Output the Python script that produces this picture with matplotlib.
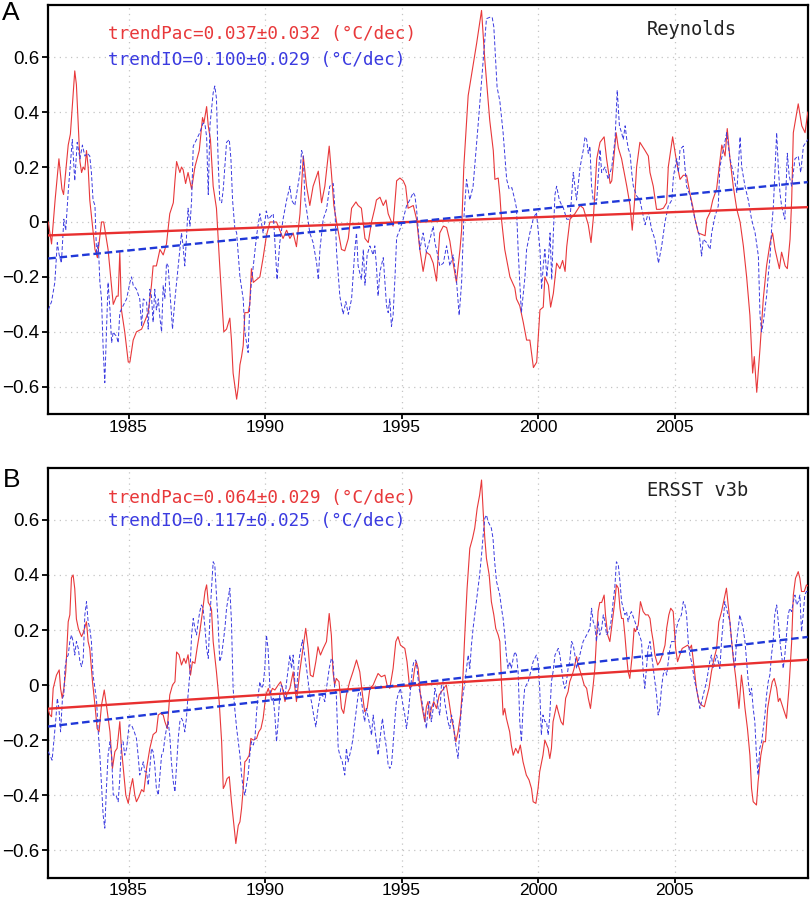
import numpy as np
import matplotlib
matplotlib.use("Agg")
import matplotlib.pyplot as plt

# ---------------- data (decimal year, anomaly degC) ----------------
pac_reynolds = [
 (1982.06,0.00),(1982.18,-0.08),(1982.31,0.08),(1982.45,0.23),(1982.56,0.12),(1982.62,0.10),(1982.79,0.28),(1982.87,0.32),
 (1983.03,0.55),(1983.09,0.50),(1983.22,0.22),(1983.28,0.18),(1983.34,0.20),(1983.40,0.19),(1983.46,0.26),(1983.52,0.20),
 (1983.58,0.08),(1983.77,-0.10),(1983.86,-0.13),(1984.01,0.00),(1984.09,0.00),(1984.25,-0.10),(1984.44,-0.30),(1984.56,-0.27),
 (1984.62,-0.27),(1984.68,-0.11),(1984.74,-0.32),(1984.86,-0.40),(1984.99,-0.51),(1985.05,-0.51),(1985.17,-0.43),(1985.29,-0.40),
 (1985.48,-0.39),(1985.60,-0.36),(1985.72,-0.33),(1985.78,-0.28),(1985.84,-0.23),(1985.90,-0.16),(1986.02,-0.16),(1986.15,-0.10),
 (1986.27,-0.12),(1986.39,-0.08),(1986.51,0.03),(1986.64,0.07),(1986.70,0.15),(1986.76,0.22),(1986.88,0.18),(1986.94,0.20),
 (1987.00,0.19),(1987.09,0.14),(1987.18,0.18),(1987.31,0.12),(1987.43,0.20),(1987.59,0.26),(1987.71,0.38),(1987.76,0.36),
 (1987.86,0.42),(1987.92,0.35),(1988.00,0.30),(1988.10,0.13),(1988.22,0.05),(1988.34,-0.16),(1988.49,-0.40),(1988.59,-0.39),
 (1988.71,-0.35),(1988.77,-0.43),(1988.83,-0.55),(1988.96,-0.645),(1989.02,-0.60),(1989.08,-0.52),(1989.14,-0.49),(1989.20,-0.45),
 (1989.26,-0.33),(1989.38,-0.33),(1989.44,-0.30),(1989.50,-0.17),(1989.57,-0.22),(1989.69,-0.21),(1989.81,-0.20),(1989.93,-0.13),
 (1990.05,-0.05),(1990.18,0.00),(1990.42,0.00),(1990.66,-0.06),(1990.79,-0.03),(1990.91,-0.06),(1991.03,-0.04),(1991.15,-0.09),
 (1991.28,0.03),(1991.40,0.24),(1991.52,0.13),(1991.64,0.06),(1991.76,0.13),(1991.95,0.185),(1992.07,0.07),(1992.19,0.13),
 (1992.35,0.276),(1992.43,0.18),(1992.52,0.06),(1992.62,0.00),(1992.80,-0.10),(1992.92,-0.105),(1993.05,-0.06),(1993.17,0.05),
 (1993.33,0.073),(1993.41,0.06),(1993.53,0.05),(1993.66,-0.06),(1993.78,-0.075),(1993.90,0.00),(1994.02,0.05),(1994.08,0.08),
 (1994.21,0.09),(1994.33,0.06),(1994.43,0.08),(1994.51,0.03),(1994.69,-0.015),(1994.82,0.15),(1994.94,0.16),(1995.06,0.15),
 (1995.15,0.13),(1995.24,0.05),(1995.43,0.06),(1995.55,0.01),(1995.67,-0.10),(1995.79,-0.18),(1995.91,-0.11),(1996.04,-0.12),
 (1996.16,-0.15),(1996.28,-0.215),(1996.40,-0.04),(1996.53,-0.015),(1996.65,-0.02),(1996.77,-0.07),(1996.89,-0.15),(1997.01,-0.22),
 (1997.14,-0.10),(1997.20,-0.03),(1997.28,0.20),(1997.44,0.46),(1997.62,0.57),(1997.75,0.65),(1997.93,0.77),(1998.05,0.59),
 (1998.23,0.37),(1998.36,0.26),(1998.42,0.155),(1998.54,0.16),(1998.60,0.10),(1998.66,0.01),(1998.78,-0.10),(1998.97,-0.20),
 (1999.15,-0.24),(1999.21,-0.28),(1999.33,-0.305),(1999.46,-0.366),(1999.58,-0.43),(1999.70,-0.43),(1999.83,-0.53),(1999.95,-0.51),
 (2000.07,-0.32),(2000.19,-0.31),(2000.25,-0.20),(2000.38,-0.23),(2000.46,-0.31),(2000.56,-0.26),(2000.68,-0.15),(2000.80,-0.17),
 (2000.90,-0.14),(2000.99,-0.18),(2001.05,-0.09),(2001.17,0.01),(2001.35,0.03),(2001.54,0.06),(2001.66,0.05),(2001.84,-0.01),
 (2001.94,-0.075),(2002.03,0.02),(2002.15,0.23),(2002.27,0.29),(2002.42,0.31),(2002.51,0.23),(2002.64,0.14),(2002.70,0.15),
 (2002.86,0.325),(2002.94,0.27),(2003.06,0.23),(2003.25,0.13),(2003.37,0.06),(2003.45,-0.03),(2003.53,0.07),(2003.61,0.20),
 (2003.73,0.29),(2003.92,0.26),(2004.04,0.24),(2004.10,0.18),(2004.22,0.13),(2004.34,0.046),(2004.47,0.046),(2004.59,0.05),
 (2004.71,0.07),(2004.77,0.20),(2004.93,0.31),(2005.08,0.215),(2005.20,0.155),(2005.32,0.17),(2005.44,0.17),(2005.57,0.10),
 (2005.66,0.06),(2005.75,0.01),(2005.87,-0.04),(2005.99,-0.045),(2006.12,-0.05),(2006.18,0.01),(2006.30,0.035),(2006.40,0.08),
 (2006.54,0.12),(2006.73,0.28),(2006.85,0.24),(2006.93,0.34),(2007.03,0.23),(2007.15,0.13),(2007.28,0.046),(2007.40,0.00),
 (2007.52,-0.087),(2007.64,-0.20),(2007.76,-0.34),(2007.86,-0.55),(2007.92,-0.49),(2008.01,-0.62),(2008.13,-0.46),(2008.25,-0.28),
 (2008.37,-0.16),(2008.50,-0.075),(2008.59,-0.04),(2008.68,-0.10),(2008.84,-0.17),(2008.92,-0.11),(2009.05,-0.16),(2009.13,-0.17),
 (2009.23,-0.063),(2009.29,0.08),(2009.35,0.325),(2009.53,0.43),(2009.66,0.35),(2009.78,0.325),(2009.88,0.40),
]

io_reynolds = [
 (1982.06,-0.32),(1982.18,-0.29),(1982.30,-0.22),(1982.39,-0.075),(1982.46,-0.12),(1982.54,-0.15),(1982.63,0.01),(1982.70,-0.03),
 (1982.79,0.11),(1982.94,0.30),(1983.03,0.15),(1983.12,0.29),(1983.22,0.23),(1983.31,0.28),(1983.40,0.24),(1983.49,0.25),
 (1983.58,0.24),(1983.64,0.18),(1983.70,0.08),(1983.77,0.06),(1983.83,-0.12),(1983.89,-0.075),(1983.95,-0.22),(1984.01,-0.28),
 (1984.07,-0.46),(1984.13,-0.585),(1984.19,-0.40),(1984.25,-0.22),(1984.32,-0.32),(1984.38,-0.44),(1984.44,-0.40),(1984.50,-0.41),
 (1984.56,-0.415),(1984.62,-0.44),(1984.68,-0.33),(1984.80,-0.305),(1984.93,-0.28),(1985.05,-0.22),(1985.11,-0.20),(1985.17,-0.23),
 (1985.29,-0.245),(1985.41,-0.28),(1985.48,-0.38),(1985.54,-0.28),(1985.66,-0.29),(1985.72,-0.39),(1985.78,-0.245),(1985.84,-0.27),
 (1985.90,-0.365),(1985.96,-0.245),(1986.02,-0.32),(1986.09,-0.28),(1986.15,-0.35),(1986.21,-0.40),(1986.27,-0.23),(1986.33,-0.28),
 (1986.39,-0.15),(1986.45,-0.16),(1986.51,-0.245),(1986.61,-0.39),(1986.70,-0.28),(1986.82,-0.16),(1986.94,-0.04),(1987.00,-0.09),
 (1987.06,-0.16),(1987.12,-0.06),(1987.18,0.05),(1987.25,-0.015),(1987.31,0.08),(1987.37,0.276),(1987.49,0.30),(1987.61,0.325),
 (1987.73,0.36),(1987.80,0.355),(1987.86,0.31),(1987.92,0.10),(1987.98,0.35),(1988.10,0.47),(1988.16,0.495),(1988.22,0.45),
 (1988.28,0.23),(1988.34,0.08),(1988.41,0.07),(1988.47,0.12),(1988.59,0.29),(1988.69,0.30),(1988.75,0.23),(1988.81,0.08),
 (1988.89,-0.02),(1988.96,-0.04),(1989.08,-0.20),(1989.20,-0.28),(1989.26,-0.40),(1989.38,-0.475),(1989.44,-0.30),(1989.50,-0.22),
 (1989.57,-0.16),(1989.69,-0.05),(1989.81,0.03),(1989.93,-0.04),(1990.05,0.04),(1990.12,0.01),(1990.30,0.03),(1990.44,-0.21),
 (1990.54,-0.075),(1990.66,0.01),(1990.79,0.08),(1990.91,0.13),(1990.97,0.08),(1991.09,0.06),(1991.28,0.18),(1991.34,0.26),
 (1991.40,0.24),(1991.46,0.08),(1991.52,0.045),(1991.64,-0.04),(1991.76,-0.075),(1991.89,-0.15),(1991.95,-0.21),(1992.01,-0.10),
 (1992.13,0.01),(1992.25,0.045),(1992.37,0.13),(1992.50,0.14),(1992.56,0.045),(1992.62,-0.11),(1992.74,-0.27),(1992.86,-0.336),
 (1992.96,-0.29),(1993.05,-0.336),(1993.17,-0.28),(1993.29,-0.10),(1993.35,-0.04),(1993.41,-0.16),(1993.53,-0.21),(1993.60,-0.10),
 (1993.66,-0.23),(1993.74,-0.12),(1993.84,-0.087),(1993.96,-0.12),(1994.02,-0.087),(1994.08,-0.16),(1994.14,-0.27),(1994.21,-0.18),
 (1994.33,-0.13),(1994.39,-0.22),(1994.45,-0.305),(1994.51,-0.33),(1994.57,-0.28),(1994.63,-0.38),(1994.69,-0.34),(1994.76,-0.20),
 (1994.82,-0.057),(1994.94,-0.027),(1995.06,0.01),(1995.18,0.058),(1995.30,0.08),(1995.43,0.107),(1995.49,0.095),(1995.55,0.046),
 (1995.67,-0.10),(1995.79,-0.04),(1995.91,-0.11),(1996.04,-0.063),(1996.16,-0.015),(1996.22,-0.075),(1996.28,-0.10),(1996.40,-0.16),
 (1996.53,-0.15),(1996.65,-0.087),(1996.77,-0.16),(1996.89,-0.12),(1997.01,-0.21),(1997.11,-0.34),(1997.20,-0.22),(1997.28,0.01),
 (1997.38,0.155),(1997.50,0.08),(1997.62,0.13),(1997.81,0.36),(1997.99,0.59),(1998.11,0.74),(1998.23,0.745),(1998.32,0.745),
 (1998.38,0.71),(1998.50,0.49),(1998.60,0.44),(1998.72,0.325),(1998.85,0.155),(1998.94,0.12),(1999.04,0.125),(1999.15,0.08),
 (1999.21,0.05),(1999.27,-0.10),(1999.33,-0.22),(1999.39,-0.33),(1999.52,-0.20),(1999.58,-0.10),(1999.70,-0.04),(1999.82,0.01),
 (1999.94,0.035),(2000.07,-0.10),(2000.13,-0.245),(2000.19,-0.16),(2000.25,-0.10),(2000.32,-0.20),(2000.38,-0.135),(2000.44,-0.04),
 (2000.50,-0.21),(2000.56,-0.04),(2000.62,0.10),(2000.68,0.13),(2000.78,0.08),(2000.87,0.06),(2000.93,0.05),(2001.05,0.01),
 (2001.17,0.01),(2001.29,0.18),(2001.41,0.08),(2001.54,0.20),(2001.66,0.264),(2001.72,0.31),(2001.78,0.30),(2001.84,0.25),
 (2001.90,0.276),(2001.96,0.13),(2002.02,0.08),(2002.15,0.08),(2002.27,0.264),(2002.33,0.18),(2002.45,0.20),(2002.57,0.155),
 (2002.70,0.20),(2002.82,0.30),(2002.90,0.48),(2002.98,0.35),(2003.06,0.325),(2003.12,0.30),(2003.19,0.35),(2003.25,0.30),
 (2003.31,0.264),(2003.37,0.25),(2003.43,0.18),(2003.49,0.13),(2003.61,0.095),(2003.73,0.08),(2003.92,-0.01),(2004.04,0.035),
 (2004.16,-0.027),(2004.28,-0.063),(2004.41,-0.15),(2004.53,-0.087),(2004.65,0.00),(2004.77,0.058),(2004.90,0.08),(2004.96,0.167),
 (2005.08,0.23),(2005.14,0.18),(2005.20,0.264),(2005.32,0.276),(2005.38,0.20),(2005.44,0.13),(2005.57,0.095),(2005.69,0.035),
 (2005.81,-0.015),(2005.91,-0.05),(2005.99,-0.124),(2006.05,-0.063),(2006.18,-0.075),(2006.30,-0.10),(2006.36,-0.04),(2006.48,0.02),
 (2006.60,0.058),(2006.66,0.20),(2006.79,0.264),(2006.91,0.325),(2007.03,0.23),(2007.15,0.18),(2007.28,0.107),(2007.40,0.31),
 (2007.46,0.20),(2007.58,0.13),(2007.70,0.08),(2007.82,0.01),(2007.95,-0.04),(2008.07,-0.124),(2008.13,-0.34),(2008.19,-0.40),
 (2008.25,-0.366),(2008.31,-0.317),(2008.37,-0.27),(2008.44,-0.185),(2008.50,-0.124),(2008.56,-0.015),(2008.62,0.058),(2008.74,0.325),
 (2008.80,0.20),(2008.86,0.107),(2008.92,0.058),(2009.04,0.01),(2009.13,0.25),(2009.20,0.167),(2009.29,0.13),(2009.41,0.23),
 (2009.53,0.24),(2009.62,0.18),(2009.72,0.276),(2009.88,0.30),
]

pac_ersst = [
 (1982.06,-0.09),(1982.12,-0.109),(1982.18,-0.115),(1982.24,-0.012),(1982.30,0.012),(1982.36,0.036),(1982.46,0.055),(1982.51,-0.012),
 (1982.57,-0.048),(1982.63,-0.012),(1982.70,0.048),(1982.79,0.23),(1982.85,0.255),(1982.91,0.39),(1982.97,0.40),(1983.03,0.35),
 (1983.09,0.24),(1983.16,0.206),(1983.22,0.19),(1983.28,0.176),(1983.34,0.19),(1983.46,0.23),(1983.52,0.158),(1983.58,0.133),
 (1983.68,0.012),(1983.77,-0.073),(1983.85,-0.158),(1983.92,-0.17),(1984.01,-0.073),(1984.11,-0.018),(1984.19,-0.073),(1984.32,-0.17),
 (1984.41,-0.303),(1984.50,-0.242),(1984.58,-0.23),(1984.68,-0.133),(1984.74,-0.23),(1984.83,-0.327),(1984.90,-0.40),(1984.99,-0.43),
 (1985.07,-0.376),(1985.15,-0.34),(1985.23,-0.40),(1985.29,-0.424),(1985.38,-0.406),(1985.48,-0.38),(1985.56,-0.388),(1985.66,-0.303),
 (1985.78,-0.23),(1985.90,-0.18),(1986.02,-0.17),(1986.09,-0.109),(1986.17,-0.103),(1986.27,-0.109),(1986.33,-0.133),(1986.42,-0.158),
 (1986.51,-0.036),(1986.61,0.0),(1986.70,0.012),(1986.76,0.12),(1986.85,0.11),(1986.94,0.073),(1987.03,0.097),(1987.10,0.079),
 (1987.18,0.11),(1987.27,0.036),(1987.34,0.085),(1987.43,0.079),(1987.51,0.133),(1987.61,0.194),(1987.71,0.267),(1987.80,0.34),
 (1987.86,0.364),(1987.92,0.30),(1987.98,0.29),(1988.04,0.273),(1988.10,0.158),(1988.22,0.048),(1988.32,-0.06),(1988.41,-0.206),
 (1988.47,-0.376),(1988.53,-0.364),(1988.61,-0.34),(1988.69,-0.333),(1988.77,-0.424),(1988.86,-0.51),(1988.93,-0.576),(1989.02,-0.51),
 (1989.08,-0.497),(1989.14,-0.448),(1989.20,-0.376),(1989.26,-0.279),(1989.32,-0.273),(1989.42,-0.255),(1989.48,-0.194),(1989.57,-0.20),
 (1989.69,-0.194),(1989.77,-0.17),(1989.85,-0.158),(1989.93,-0.121),(1990.03,-0.036),(1990.12,-0.012),(1990.18,-0.036),(1990.27,-0.012),
 (1990.36,-0.018),(1990.48,0.0),(1990.57,0.012),(1990.64,-0.012),(1990.73,-0.06),(1990.81,-0.03),(1990.91,-0.012),(1991.03,0.048),
 (1991.15,-0.06),(1991.27,0.048),(1991.39,0.133),(1991.49,0.206),(1991.58,0.133),(1991.66,0.036),(1991.76,0.03),(1991.86,0.085),
 (1991.94,0.139),(1992.03,0.109),(1992.13,0.133),(1992.25,0.158),(1992.35,0.26),(1992.43,0.18),(1992.49,0.048),(1992.55,0.0),
 (1992.61,0.024),(1992.71,0.012),(1992.80,-0.085),(1992.88,-0.103),(1992.98,-0.036),(1993.10,0.012),(1993.22,0.048),(1993.35,0.091),
 (1993.47,0.048),(1993.57,-0.036),(1993.65,-0.097),(1993.74,-0.085),(1993.84,-0.012),(1993.96,0.0),(1994.06,0.024),(1994.14,0.042),
 (1994.26,0.03),(1994.39,0.036),(1994.47,0.0),(1994.57,-0.012),(1994.69,0.06),(1994.79,0.158),(1994.87,0.176),(1994.96,0.145),
 (1995.12,0.133),(1995.20,0.085),(1995.30,-0.012),(1995.40,0.0),(1995.48,0.06),(1995.54,0.085),(1995.61,0.06),(1995.69,-0.036),
 (1995.76,-0.085),(1995.85,-0.133),(1995.91,-0.079),(1995.97,-0.06),(1996.03,-0.121),(1996.09,-0.085),(1996.18,-0.06),(1996.28,-0.085),
 (1996.38,-0.036),(1996.46,-0.024),(1996.55,-0.012),(1996.64,0.0),(1996.74,-0.06),(1996.83,-0.121),(1996.91,-0.158),(1996.99,-0.206),
 (1997.07,-0.17),(1997.16,-0.109),(1997.23,-0.012),(1997.31,0.17),(1997.40,0.35),(1997.50,0.497),(1997.60,0.533),(1997.68,0.57),
 (1997.77,0.642),(1997.86,0.69),(1997.93,0.745),(1997.99,0.63),(1998.05,0.533),(1998.11,0.46),(1998.21,0.40),(1998.29,0.303),
 (1998.38,0.255),(1998.45,0.206),(1998.54,0.182),(1998.60,0.158),(1998.66,0.012),(1998.72,-0.109),(1998.78,-0.085),(1998.84,-0.121),
 (1998.90,-0.145),(1998.96,-0.17),(1999.02,-0.218),(1999.09,-0.255),(1999.18,-0.23),(1999.27,-0.248),(1999.35,-0.218),(1999.45,-0.279),
 (1999.57,-0.327),(1999.67,-0.345),(1999.76,-0.376),(1999.82,-0.424),(1999.92,-0.43),(2000.00,-0.376),(2000.06,-0.315),(2000.18,-0.255),
 (2000.25,-0.20),(2000.37,-0.23),(2000.43,-0.267),(2000.49,-0.23),(2000.55,-0.133),(2000.68,-0.073),(2000.74,-0.097),(2000.84,-0.133),
 (2000.92,-0.145),(2001.01,-0.048),(2001.10,-0.024),(2001.16,0.012),(2001.25,0.036),(2001.32,0.06),(2001.41,0.103),(2001.47,0.073),
 (2001.59,0.036),(2001.69,0.0),(2001.78,-0.012),(2001.84,-0.048),(2001.92,-0.085),(2002.02,0.0),(2002.08,0.06),(2002.14,0.17),
 (2002.20,0.267),(2002.26,0.30),(2002.33,0.30),(2002.42,0.327),(2002.47,0.255),(2002.55,0.182),(2002.63,0.158),(2002.69,0.206),
 (2002.75,0.255),(2002.81,0.303),(2002.87,0.364),(2002.94,0.352),(2003.00,0.279),(2003.06,0.242),(2003.12,0.242),(2003.18,0.182),
 (2003.24,0.109),(2003.30,0.048),(2003.36,0.024),(2003.45,0.109),(2003.52,0.206),(2003.57,0.194),(2003.67,0.218),(2003.75,0.303),
 (2003.85,0.267),(2003.94,0.255),(2004.03,0.255),(2004.10,0.242),(2004.16,0.194),(2004.22,0.158),(2004.28,0.109),(2004.38,0.073),
 (2004.46,0.085),(2004.55,0.109),(2004.65,0.145),(2004.71,0.206),(2004.79,0.255),(2004.86,0.279),(2004.95,0.267),(2005.04,0.133),
 (2005.11,0.085),(2005.19,0.109),(2005.28,0.133),(2005.38,0.139),(2005.48,0.145),(2005.56,0.133),(2005.62,0.145),(2005.72,0.06),
 (2005.80,-0.012),(2005.89,-0.06),(2005.99,-0.073),(2006.09,-0.079),(2006.17,-0.048),(2006.26,-0.012),(2006.35,0.048),(2006.45,0.097),
 (2006.54,0.133),(2006.62,0.23),(2006.72,0.267),(2006.82,0.315),(2006.90,0.352),(2006.99,0.267),(2007.06,0.194),(2007.15,0.097),
 (2007.23,0.036),(2007.31,-0.036),(2007.36,-0.085),(2007.45,0.036),(2007.51,-0.012),(2007.58,-0.085),(2007.67,-0.158),(2007.76,-0.255),
 (2007.82,-0.376),(2007.88,-0.424),(2007.94,-0.43),(2008.00,-0.436),(2008.06,-0.352),(2008.16,-0.255),(2008.25,-0.206),(2008.33,-0.206),
 (2008.41,-0.085),(2008.49,-0.036),(2008.58,0.012),(2008.65,0.024),(2008.74,-0.012),(2008.80,-0.06),(2008.86,-0.048),(2008.94,-0.073),
 (2009.02,-0.097),(2009.10,-0.121),(2009.19,-0.012),(2009.29,0.158),(2009.35,0.327),(2009.43,0.388),(2009.53,0.412),(2009.59,0.388),
 (2009.65,0.34),(2009.75,0.34),(2009.83,0.364),(2009.88,0.36),
]

io_ersst = [
 (1982.06,-0.242),(1982.12,-0.255),(1982.20,-0.273),(1982.26,-0.206),(1982.34,-0.121),(1982.39,-0.048),(1982.45,-0.085),(1982.51,-0.17),
 (1982.58,-0.048),(1982.63,-0.036),(1982.67,0.06),(1982.73,0.097),(1982.79,0.109),(1982.85,0.158),(1982.91,0.182),(1982.97,0.158),
 (1983.03,0.109),(1983.09,0.158),(1983.16,0.133),(1983.22,0.085),(1983.28,0.067),(1983.34,0.097),(1983.40,0.255),(1983.46,0.303),
 (1983.52,0.23),(1983.58,0.206),(1983.64,0.158),(1983.70,0.036),(1983.77,-0.012),(1983.83,-0.06),(1983.89,-0.17),(1983.95,-0.255),
 (1984.01,-0.364),(1984.07,-0.473),(1984.13,-0.52),(1984.19,-0.376),(1984.25,-0.255),(1984.32,-0.206),(1984.38,-0.255),(1984.44,-0.40),
 (1984.54,-0.40),(1984.62,-0.424),(1984.68,-0.34),(1984.74,-0.218),(1984.80,-0.206),(1984.86,-0.255),(1984.93,-0.23),(1985.02,-0.145),
 (1985.11,-0.145),(1985.21,-0.17),(1985.29,-0.194),(1985.35,-0.255),(1985.41,-0.327),(1985.48,-0.303),(1985.54,-0.279),(1985.60,-0.315),
 (1985.66,-0.315),(1985.72,-0.364),(1985.78,-0.303),(1985.84,-0.23),(1985.90,-0.242),(1985.96,-0.291),(1986.02,-0.376),(1986.09,-0.40),
 (1986.15,-0.327),(1986.21,-0.255),(1986.27,-0.242),(1986.33,-0.194),(1986.39,-0.158),(1986.45,-0.133),(1986.51,-0.182),(1986.57,-0.279),
 (1986.64,-0.352),(1986.70,-0.388),(1986.76,-0.291),(1986.82,-0.194),(1986.88,-0.133),(1986.94,-0.121),(1987.00,-0.133),(1987.06,-0.17),
 (1987.12,-0.121),(1987.18,-0.036),(1987.25,0.048),(1987.31,0.182),(1987.37,0.242),(1987.43,0.206),(1987.49,0.182),(1987.55,0.23),
 (1987.61,0.267),(1987.67,0.291),(1987.73,0.279),(1987.79,0.218),(1987.86,0.133),(1987.92,0.097),(1987.98,0.242),(1988.04,0.352),
 (1988.10,0.448),(1988.16,0.436),(1988.22,0.327),(1988.28,0.23),(1988.34,0.085),(1988.41,0.109),(1988.47,0.158),(1988.53,0.206),
 (1988.59,0.279),(1988.65,0.315),(1988.71,0.352),(1988.77,0.23),(1988.83,-0.012),(1988.89,-0.085),(1988.96,-0.158),(1989.02,-0.206),
 (1989.08,-0.255),(1989.14,-0.327),(1989.20,-0.376),(1989.26,-0.40),(1989.32,-0.364),(1989.38,-0.327),(1989.44,-0.255),(1989.50,-0.206),
 (1989.57,-0.218),(1989.63,-0.194),(1989.69,-0.097),(1989.75,-0.036),(1989.81,0.012),(1989.87,-0.012),(1989.93,0.0),(1989.99,0.06),
 (1990.05,0.182),(1990.11,0.133),(1990.18,-0.012),(1990.24,-0.06),(1990.30,-0.048),(1990.36,-0.109),(1990.42,-0.206),(1990.48,-0.133),
 (1990.54,-0.036),(1990.60,0.0),(1990.66,-0.012),(1990.73,-0.048),(1990.79,0.012),(1990.85,0.06),(1990.91,0.109),(1990.97,0.06),
 (1991.03,0.109),(1991.09,0.012),(1991.15,-0.036),(1991.21,0.06),(1991.27,0.109),(1991.37,0.164),(1991.45,0.109),(1991.52,0.06),
 (1991.58,0.012),(1991.64,-0.036),(1991.70,-0.06),(1991.78,-0.109),(1991.86,-0.152),(1991.94,-0.085),(1992.03,-0.036),(1992.10,-0.036),
 (1992.19,-0.06),(1992.25,-0.012),(1992.35,0.06),(1992.43,0.097),(1992.49,0.085),(1992.55,-0.012),(1992.61,-0.036),(1992.68,-0.23),
 (1992.74,-0.255),(1992.83,-0.279),(1992.92,-0.327),(1992.98,-0.23),(1993.04,-0.279),(1993.10,-0.255),(1993.16,-0.23),(1993.22,-0.194),
 (1993.29,-0.133),(1993.35,-0.085),(1993.41,-0.036),(1993.47,-0.012),(1993.57,-0.085),(1993.65,-0.133),(1993.71,-0.085),(1993.81,-0.133),
 (1993.90,-0.182),(1993.96,-0.109),(1994.02,-0.158),(1994.08,-0.206),(1994.14,-0.255),(1994.20,-0.206),(1994.30,-0.121),(1994.39,-0.194),
 (1994.45,-0.23),(1994.51,-0.291),(1994.57,-0.303),(1994.63,-0.291),(1994.69,-0.218),(1994.75,-0.133),(1994.81,-0.06),(1994.87,-0.036),
 (1994.96,-0.012),(1995.03,-0.06),(1995.12,-0.109),(1995.18,-0.158),(1995.24,-0.109),(1995.33,-0.012),(1995.40,0.06),(1995.45,0.085),
 (1995.52,0.091),(1995.57,0.06),(1995.64,-0.012),(1995.73,-0.048),(1995.79,-0.085),(1995.85,-0.121),(1995.91,-0.158),(1995.97,-0.085),
 (1996.03,-0.06),(1996.09,-0.133),(1996.16,-0.085),(1996.22,-0.012),(1996.28,-0.036),(1996.34,-0.085),(1996.40,-0.109),(1996.46,0.0),
 (1996.52,0.012),(1996.58,-0.06),(1996.64,-0.097),(1996.70,-0.133),(1996.77,-0.158),(1996.83,-0.109),(1996.89,-0.133),(1996.95,-0.194),
 (1997.01,-0.23),(1997.07,-0.267),(1997.13,-0.17),(1997.19,-0.085),(1997.25,-0.036),(1997.32,0.012),(1997.38,0.06),(1997.44,0.109),
 (1997.50,0.06),(1997.56,0.145),(1997.62,0.206),(1997.68,0.255),(1997.74,0.303),(1997.80,0.352),(1997.86,0.40),(1997.93,0.473),
 (1997.99,0.545),(1998.05,0.606),(1998.11,0.618),(1998.17,0.594),(1998.23,0.582),(1998.29,0.57),(1998.35,0.533),(1998.41,0.448),
 (1998.48,0.376),(1998.54,0.352),(1998.60,0.327),(1998.66,0.279),(1998.72,0.242),(1998.78,0.182),(1998.84,0.109),(1998.90,0.06),
 (1998.96,0.085),(1999.02,0.06),(1999.09,0.097),(1999.15,0.121),(1999.21,0.109),(1999.27,0.048),(1999.33,-0.133),(1999.39,-0.206),
 (1999.45,-0.085),(1999.51,-0.012),(1999.57,0.0),(1999.64,0.012),(1999.70,0.036),(1999.76,0.06),(1999.82,0.085),(1999.94,0.109),
 (2000.00,0.085),(2000.06,-0.012),(2000.12,-0.182),(2000.18,-0.109),(2000.25,-0.133),(2000.31,-0.133),(2000.37,-0.182),(2000.43,-0.109),
 (2000.49,0.012),(2000.55,0.048),(2000.62,0.109),(2000.74,0.133),(2000.80,0.109),(2000.86,0.06),(2000.92,0.012),(2000.98,-0.012),
 (2001.04,0.012),(2001.10,0.06),(2001.16,0.085),(2001.23,0.158),(2001.29,0.145),(2001.35,0.109),(2001.41,0.06),(2001.47,0.085),
 (2001.53,0.109),(2001.59,0.133),(2001.65,0.158),(2001.78,0.182),(2001.90,0.206),(2001.96,0.279),(2002.02,0.23),(2002.08,0.218),
 (2002.14,0.158),(2002.20,0.23),(2002.26,0.182),(2002.33,0.206),(2002.39,0.255),(2002.45,0.23),(2002.51,0.182),(2002.63,0.206),
 (2002.69,0.242),(2002.75,0.303),(2002.81,0.352),(2002.87,0.448),(2002.94,0.436),(2003.00,0.376),(2003.06,0.303),(2003.12,0.279),
 (2003.18,0.255),(2003.24,0.267),(2003.30,0.23),(2003.36,0.255),(2003.42,0.267),(2003.55,0.23),(2003.67,0.194),(2003.79,0.158),
 (2003.85,0.048),(2003.91,-0.012),(2003.97,0.06),(2004.03,0.133),(2004.10,0.158),(2004.16,0.109),(2004.22,0.06),(2004.28,0.012),
 (2004.34,-0.036),(2004.40,-0.109),(2004.46,-0.085),(2004.52,-0.012),(2004.58,0.036),(2004.65,0.06),(2004.71,0.036),(2004.77,0.085),
 (2004.83,0.133),(2004.89,0.158),(2005.01,0.158),(2005.07,0.206),(2005.13,0.23),(2005.25,0.255),(2005.32,0.303),(2005.38,0.291),
 (2005.44,0.255),(2005.50,0.158),(2005.56,0.109),(2005.62,0.085),(2005.68,0.048),(2005.74,0.012),(2005.80,-0.012),(2005.87,-0.048),
 (2005.93,-0.085),(2005.99,-0.06),(2006.05,-0.036),(2006.11,-0.012),(2006.17,0.012),(2006.23,0.048),(2006.29,0.085),(2006.35,0.109),
 (2006.41,0.06),(2006.48,0.085),(2006.54,0.109),(2006.60,0.085),(2006.66,0.06),(2006.72,0.158),(2006.78,0.23),(2006.84,0.303),
 (2006.90,0.279),(2006.96,0.255),(2007.03,0.23),(2007.09,0.158),(2007.15,0.109),(2007.21,0.06),(2007.27,0.158),(2007.33,0.206),
 (2007.39,0.255),(2007.45,0.23),(2007.51,0.206),(2007.58,0.158),(2007.64,0.085),(2007.70,0.012),(2007.76,-0.036),(2007.82,-0.012),
 (2007.88,-0.085),(2007.94,-0.133),(2008.00,-0.255),(2008.06,-0.327),(2008.12,-0.23),(2008.19,-0.206),(2008.25,-0.158),(2008.31,-0.109),
 (2008.37,-0.036),(2008.43,0.012),(2008.49,0.036),(2008.55,0.109),(2008.61,0.158),(2008.67,0.255),(2008.74,0.291),(2008.80,0.23),
 (2008.86,0.158),(2008.92,0.109),(2008.98,0.06),(2009.04,0.109),(2009.10,0.182),(2009.16,0.255),(2009.22,0.279),(2009.29,0.267),
 (2009.35,0.303),(2009.41,0.327),(2009.47,0.291),(2009.53,0.303),(2009.59,0.327),(2009.65,0.194),(2009.71,0.255),(2009.77,0.327),
 (2009.83,0.34),(2009.88,0.34),
]

# trends: rate (degC/decade), uncertainty, value of trend line at period centre
trend_rate = {"A": (0.037, 0.100), "B": (0.064, 0.117)}
trend_err = {"A": (0.032, 0.029), "B": (0.029, 0.025)}
trend_centre_val = {"A": (0.0025, 0.006), "B": (0.003, 0.012)}
panel_titles = {"A": "Reynolds", "B": "ERSST v3b"}
year_ticks = [1985, 1990, 1995, 2000, 2005]
value_ticks = [-0.6, -0.4, -0.2, 0, 0.2, 0.4, 0.6]

# ---------------- figure ----------------
RED = "#e8383a"
BLUE = "#3b3be0"
XMIN, XMAX = 1982.06, 2009.875
TMID = 0.5 * (XMIN + XMAX)

fig = plt.figure(figsize=(8.10, 9.00), dpi=100)
positions = {"A": [0.0596, 0.5397, 0.9375, 0.4548],
             "B": [0.0596, 0.0248, 0.9375, 0.4556]}
series = {"A": (pac_reynolds, io_reynolds), "B": (pac_ersst, io_ersst)}
label_y = {"A": (0.929, 0.866, 0.939), "B": (0.927, 0.871, 0.944)}

def fmt_tick(v):
    if abs(v) < 1e-9:
        return "0"
    return ("%.1f" % v).replace("-", "\u2212")

for key in ["A", "B"]:
    ax = fig.add_axes(positions[key])
    pac, io = series[key]
    px, pv = zip(*pac)
    ix, iv = zip(*io)
    ax.plot(px, pv, color=RED, lw=0.8, zorder=3)
    ax.plot(ix, iv, color=BLUE, lw=0.7, dashes=(4.0, 2.2), zorder=3)

    tx = np.array([XMIN, XMAX])
    rp, ri = trend_rate[key]
    cp, ci = trend_centre_val[key]
    ax.plot(tx, cp + rp / 10.0 * (tx - TMID), color="#e83030", lw=1.7, zorder=4)
    ax.plot(tx, ci + ri / 10.0 * (tx - TMID), color="#2038d8", lw=1.7,
            dashes=(3.2, 1.6), zorder=5)

    ax.set_xlim(XMIN, XMAX)
    ax.set_ylim(-0.70, 0.79)
    ax.set_xticks(year_ticks)
    ax.set_xticklabels([str(y) for y in year_ticks],
                       family=["Liberation Sans Narrow", "Liberation Sans", "DejaVu Sans"],
                       fontsize=12.5)
    ax.set_yticks(value_ticks)
    ax.set_yticklabels([fmt_tick(v) for v in value_ticks],
                       family=["Liberation Sans", "DejaVu Sans"], fontsize=13.5)
    ax.tick_params(axis="y", direction="out", length=4.5, width=1.3, colors="black", pad=2)
    ax.tick_params(axis="x", direction="out", length=3.5, width=1.3, colors="black", pad=0.5)
    ax.grid(True, color="#c4c4c4", lw=0.9, dashes=(1, 3.5))
    for sp in ax.spines.values():
        sp.set_linewidth(1.6)

    ep, ei = trend_err[key]
    ly1, ly2, lyt = label_y[key]
    ax.text(0.0786, ly1, "trendPac=%.3f\u00b1%.3f (\u00b0C/dec)" % (rp, ep),
            transform=ax.transAxes, color=RED, fontsize=12.7,
            family="DejaVu Sans Mono", va="center", ha="left")
    ax.text(0.0786, ly2, "trendIO=%.3f\u00b1%.3f (\u00b0C/dec)" % (ri, ei),
            transform=ax.transAxes, color=BLUE, fontsize=12.7,
            family="DejaVu Sans Mono", va="center", ha="left")
    ax.text(0.788, lyt, panel_titles[key], transform=ax.transAxes, color="#222222",
            fontsize=13.5, family="DejaVu Sans Mono", va="center", ha="left")

fig.text(0.003, 0.9985, "A", fontsize=19, family=["Liberation Sans", "DejaVu Sans"],
         va="top", ha="left")
fig.text(0.003, 0.4795, "B", fontsize=19, family=["Liberation Sans", "DejaVu Sans"],
         va="top", ha="left")

fig.savefig("out.png", dpi=100)
